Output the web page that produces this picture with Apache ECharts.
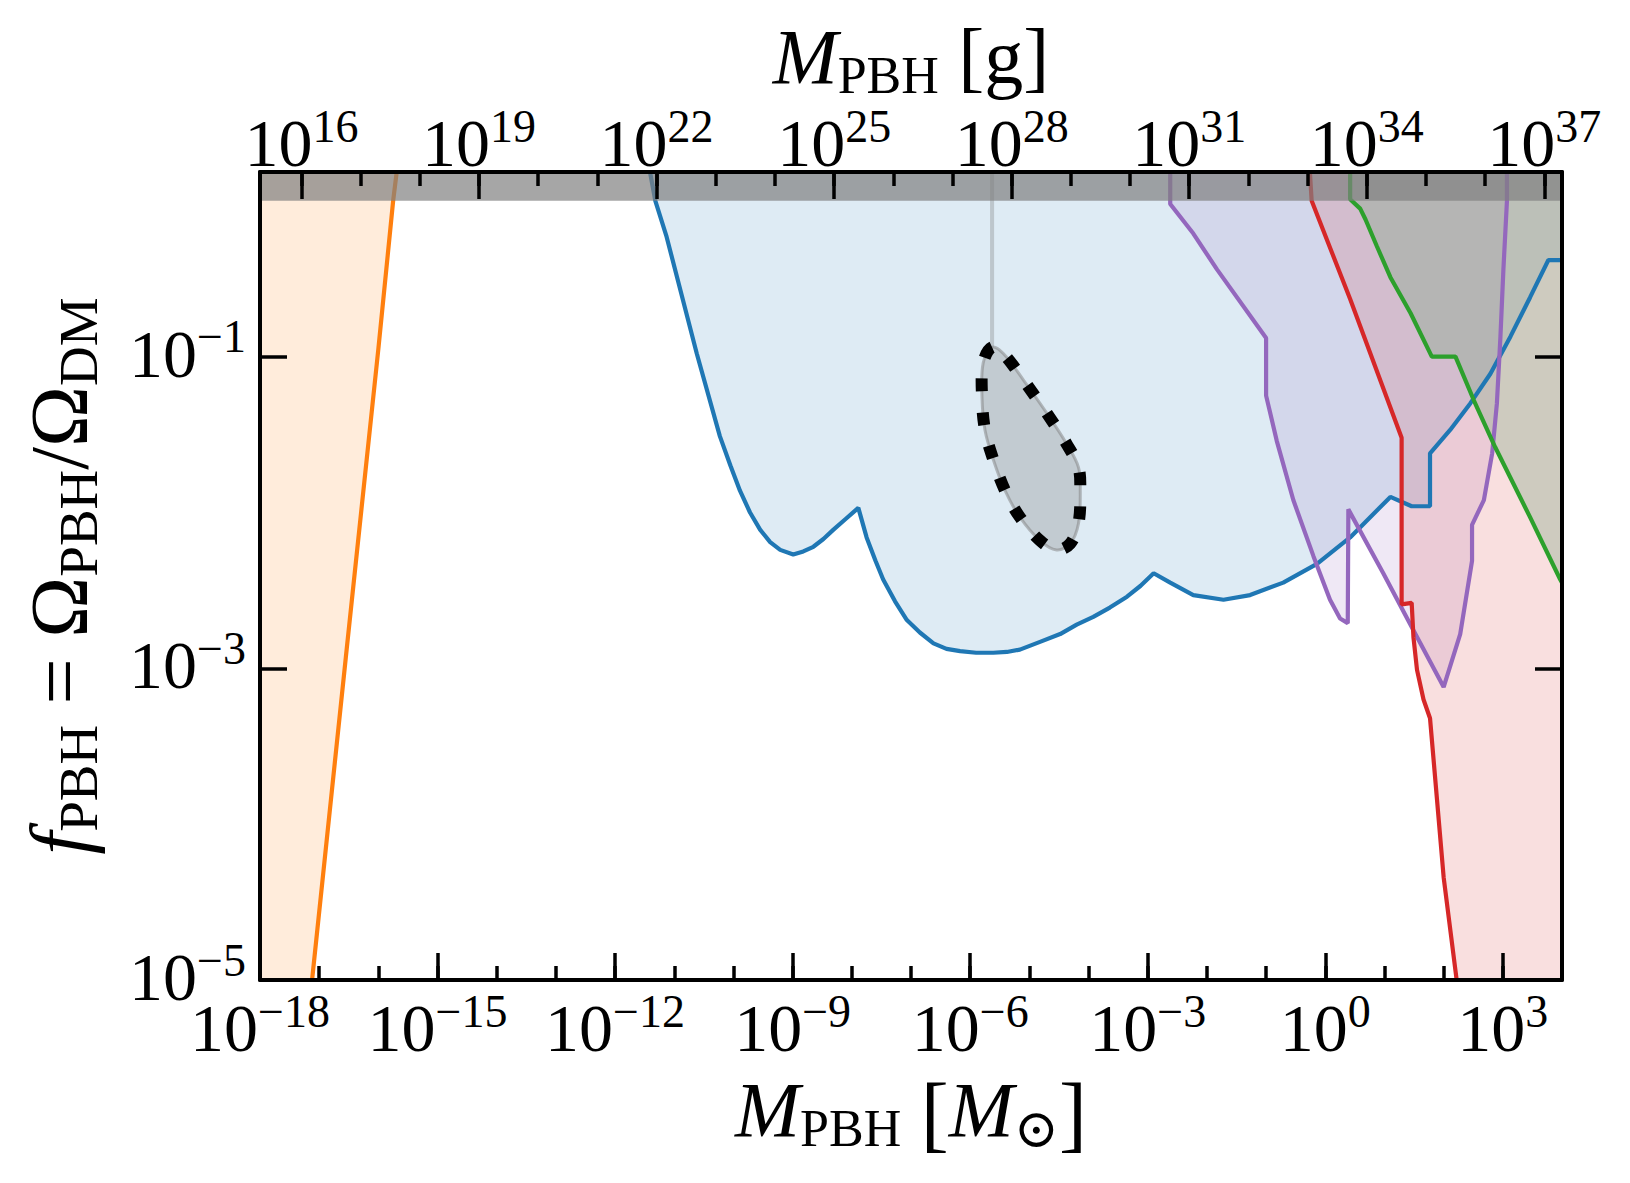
<!DOCTYPE html>
<html>
<head>
<meta charset="utf-8">
<title>PBH abundance constraints</title>
<script src="https://cdn.jsdelivr.net/npm/echarts@6/dist/echarts.min.js"></script>
<style>
  html, body { margin: 0; padding: 0; background: #fff; }
  #chart { width: 1630px; height: 1183px; }
</style>
</head>
<body>
<div id="chart"></div>
<script>
// all masses are log10(M / Msun), all fractions log10(f_PBH)
const orangeLogM = [-15.69, -15.75, -16.00, -16.55, -17.12, -18.00];
const orangeLogF = [0.185, 0.00, -0.95, -2.93, -5.00, -8.20];

const blueLogM = [-11.41, -11.32, -11.13, -10.62, -10.23, -10.05, -9.89, -9.72, -9.55, -9.38, -9.21, -8.99,
  -8.82, -8.65, -8.48, -8.31, -8.10, -7.89, -7.75, -7.60, -7.47, -7.27, -7.07, -6.85, -6.62, -6.40, -6.17,
  -5.90, -5.61, -5.38, -5.16, -4.82, -4.48, -4.20, -3.92, -3.64, -3.35, -3.12, -2.90, -2.62, -2.23, -1.72,
  -1.27, -0.71, -0.14, 0.42, 1.10, 1.46, 1.77, 1.77, 2.11, 2.45, 2.79, 3.13, 3.46, 3.77, 4.00];
const blueLogF = [0.185, 0.00, -0.23, -0.98, -1.51, -1.70, -1.86, -2.00, -2.11, -2.19, -2.24, -2.27,
  -2.25, -2.22, -2.17, -2.11, -2.04, -1.97, -2.16, -2.31, -2.43, -2.57, -2.69, -2.77, -2.84, -2.875, -2.89,
  -2.90, -2.90, -2.895, -2.88, -2.83, -2.78, -2.72, -2.67, -2.61, -2.54, -2.47, -2.39, -2.45, -2.53, -2.56,
  -2.53, -2.45, -2.33, -2.16, -1.90, -1.96, -1.96, -1.62, -1.47, -1.30, -1.11, -0.87, -0.62, -0.38, -0.38];

const purpleLogM = [-2.62, -2.62, -2.23, -1.83, -1.00, -1.00, -0.82, -0.54, -0.20, 0.08, 0.25, 0.38, 0.39,
  0.98, 1.44, 2.00, 2.28, 2.48, 2.48, 2.68, 2.82, 2.90, 2.96, 3.01, 3.07, 3.07];
const purpleLogF = [0.185, -0.02, -0.21, -0.44, -0.88, -1.25, -1.54, -1.92, -2.28, -2.56, -2.68, -2.71, -1.98,
  -2.39, -2.72, -3.12, -2.78, -2.31, -2.08, -1.92, -1.62, -1.30, -0.87, -0.44, 0.00, 0.185];

const redLogM = [-0.26, -0.23, 0.42, 1.29, 1.29, 1.46, 1.49, 1.55, 1.66, 1.77, 2.00, 2.22, 4.00];
const redLogF = [0.185, 0.00, -0.63, -1.52, -2.59, -2.58, -2.80, -3.01, -3.20, -3.32, -4.34, -5.00, -10.20];

const greenLogM = [0.42, 0.42, 0.59, 0.68, 0.87, 1.10, 1.44, 1.80, 2.20, 2.51, 2.87, 3.46, 3.97, 4.00];
const greenLogF = [0.185, 0.01, -0.05, -0.12, -0.29, -0.49, -0.72, -1.00, -1.00, -1.28, -1.58, -2.03, -2.43, -2.45];

// closed contour of the favoured region, and the thin stem above it
const blobLogM = [-5.63, -5.78, -5.80, -5.75, -5.61, -5.41, -5.16, -4.82, -4.54, -4.31, -4.17, -4.14,
  -4.17, -4.37, -4.71, -5.10, -5.44];
const blobLogF = [-0.94, -1.04, -1.26, -1.47, -1.66, -1.86, -2.03, -2.18, -2.24, -2.20, -2.07, -1.86,
  -1.71, -1.56, -1.36, -1.15, -0.98];
const stemLogM = [-5.63, -5.63];
const stemLogF = [-0.94, 0.185];

// tick labels (exponents)
const massTickExps = [-18, -15, -12, -9, -6, -3, 0, 3];
const gramTickExps = [16, 19, 22, 25, 28, 31, 34, 37];
const fracTickExps = [-5, -3, -1];

const M_MIN = -18, M_MAX = 4;
const F_MIN = -5, F_MAX = 0.185;
const G_MIN = 16, G_MAX = 37;
const LOG_MSUN_IN_G = Math.log10(1.989e33);

const GRID_LEFT = 260, GRID_TOP = 172, GRID_W = 1302, GRID_H = 808;
const pxPerDecade = GRID_W / (M_MAX - M_MIN);
const gramLeft = GRID_LEFT + (G_MIN - LOG_MSUN_IN_G - M_MIN) * pxPerDecade;
const gramWidth = (G_MAX - G_MIN) * pxPerDecade;

const SERIF = 'Liberation Serif, DejaVu Serif, serif';

// rich tokens are bottom aligned; bottom padding lifts a token
const tickRich = {
  b: { fontFamily: SERIF, fontSize: 68, lineHeight: 62, color: '#000', verticalAlign: 'bottom' },
  s: { fontFamily: SERIF, fontSize: 46, lineHeight: 62, color: '#000', verticalAlign: 'bottom', padding: [0, 0, 28, 0] }
};

function titleRich(size, lift) {
  const sub = Math.round(size * 0.67);
  return {
    i: { fontFamily: SERIF, fontStyle: 'italic', fontSize: size, lineHeight: 84, color: '#000', verticalAlign: 'bottom', padding: [0, 0, lift, 0] },
    r: { fontFamily: SERIF, fontSize: size, lineHeight: 84, color: '#000', verticalAlign: 'bottom', padding: [0, 0, lift, 0] },
    sub: { fontFamily: SERIF, fontSize: sub, lineHeight: 84, color: '#000', verticalAlign: 'bottom', padding: [0, 0, lift - 6, 0] },
    br: { fontFamily: SERIF, fontSize: 84, lineHeight: 84, color: '#000', verticalAlign: 'bottom' },
    dot: { fontFamily: 'DejaVu Serif, serif', fontSize: 54, lineHeight: 84, color: '#000', verticalAlign: 'bottom' }
  };
}

function powLabel(list) {
  return function (value) {
    const n = Math.round(value);
    if (Math.abs(value - n) > 1e-6 || list.indexOf(n) < 0) return '';
    const e = n < 0 ? '\u2212' + (-n) : String(n);
    return '{b|10}{s|' + e + '}';
  };
}

function pairs(xs, ys) {
  return xs.map((x, i) => [x, ys[i]]);
}

function fillSeries(name, xs, ys, color) {
  return {
    name: name, type: 'line', data: pairs(xs, ys), symbol: 'none', silent: true, clip: true, z: 2,
    lineStyle: { width: 0, opacity: 0 },
    areaStyle: { color: color, opacity: 1, origin: 'end' }
  };
}

function lineSeries(name, xs, ys, color, width) {
  return {
    name: name, type: 'line', data: pairs(xs, ys), symbol: 'none', silent: true, clip: true, z: 3,
    lineStyle: { color: color, width: width }
  };
}

const spine = { show: true, onZero: false, lineStyle: { color: '#000', width: 4 } };
const noLine = { show: false, onZero: false };
const majorTick = { show: true, inside: true, length: 27, lineStyle: { color: '#000', width: 3.5 } };
const minorTick = { show: true, inside: true, length: 14, lineStyle: { color: '#000', width: 3.5 } };

const chart = echarts.init(document.getElementById('chart'), null, { renderer: 'svg' });

chart.setOption({
  animation: false,
  backgroundColor: '#fff',
  textStyle: { fontFamily: SERIF },
  grid: [
    { left: GRID_LEFT, top: GRID_TOP, width: GRID_W, height: GRID_H, containLabel: false, outerBoundsMode: 'none' },
    { left: gramLeft, top: GRID_TOP, width: gramWidth, height: GRID_H, containLabel: false, outerBoundsMode: 'none' }
  ],
  xAxis: [
    {
      type: 'value', gridIndex: 0, position: 'bottom', min: M_MIN, max: M_MAX, interval: 3, z: 10,
      axisLine: spine, axisTick: majorTick, splitLine: { show: false },
      axisLabel: { formatter: powLabel(massTickExps), rich: tickRich, margin: 20, showMinLabel: true, showMaxLabel: true },
      name: '{i|M}{sub|PBH}{r| }{br|[}{i|M}{dot|\u2299}{br|]}',
      nameLocation: 'middle', nameGap: 91, nameMoveOverlap: false,
      nameTextStyle: { rich: titleRich(78, 7) }
    },
    {
      type: 'value', gridIndex: 0, position: 'bottom', min: M_MIN, max: M_MAX, interval: 1, z: 10,
      axisLine: noLine, axisTick: minorTick, axisLabel: { show: false }, splitLine: { show: false }
    },
    {
      type: 'value', gridIndex: 0, position: 'top', min: M_MIN, max: M_MAX, z: 10,
      axisLine: spine, axisTick: { show: false }, axisLabel: { show: false }, splitLine: { show: false },
      name: '{i|M}{sub|PBH}{r| [g]}',
      nameLocation: 'middle', nameGap: 70, nameMoveOverlap: false,
      nameTextStyle: { rich: titleRich(78, 7) }
    },
    {
      type: 'value', gridIndex: 1, position: 'top', min: G_MIN, max: G_MAX, interval: 3, z: 10,
      axisLine: noLine, axisTick: majorTick, splitLine: { show: false },
      axisLabel: { formatter: powLabel(gramTickExps), rich: tickRich, margin: -5, showMinLabel: true, showMaxLabel: true }
    },
    {
      type: 'value', gridIndex: 1, position: 'top', min: G_MIN, max: G_MAX, interval: 1, z: 10,
      axisLine: noLine, axisTick: minorTick, axisLabel: { show: false }, splitLine: { show: false }
    }
  ],
  yAxis: [
    {
      type: 'value', gridIndex: 0, position: 'left', min: F_MIN, max: F_MAX, interval: 2, z: 10,
      axisLine: spine, axisTick: majorTick, splitLine: { show: false },
      axisLabel: { formatter: powLabel(fracTickExps), rich: tickRich, margin: 14, showMinLabel: true, showMaxLabel: true },
      name: '{i|f}{sub|PBH}{r| = \u03a9}{sub|PBH}{r|/\u03a9}{sub|DM}',
      nameLocation: 'middle', nameRotate: 90, nameGap: 152, nameMoveOverlap: false,
      nameTextStyle: { rich: titleRich(82, 8) }
    },
    {
      type: 'value', gridIndex: 0, position: 'right', min: F_MIN, max: F_MAX, interval: 2, z: 10,
      axisLine: spine, axisTick: majorTick, axisLabel: { show: false }, splitLine: { show: false }
    },
    { type: 'value', gridIndex: 1, min: 0, max: 1, show: false }
  ],
  series: [
    fillSeries('orange fill', orangeLogM, orangeLogF, 'rgba(255,127,14,0.15)'),
    fillSeries('blue fill', blueLogM, blueLogF, 'rgba(31,119,180,0.15)'),
    fillSeries('purple fill', purpleLogM, purpleLogF, 'rgba(148,103,189,0.15)'),
    fillSeries('red fill', redLogM, redLogF, 'rgba(214,39,40,0.15)'),
    fillSeries('green fill', greenLogM, greenLogF, 'rgba(125,166,133,0.35)'),
    lineSeries('orange', orangeLogM, orangeLogF, '#ff7f0e', 4.2),
    lineSeries('blue', blueLogM, blueLogF, '#1f77b4', 4.2),
    lineSeries('purple', purpleLogM, purpleLogF, '#9467bd', 4.2),
    lineSeries('red', redLogM, redLogF, '#d62728', 4.2),
    lineSeries('green', greenLogM, greenLogF, '#2ca02c', 4.2),
    lineSeries('stem', stemLogM, stemLogF, 'rgba(128,128,128,0.35)', 4),
    {
      name: 'contour', type: 'custom', silent: true, z: 4,
      data: pairs(blobLogM, blobLogF),
      encode: { x: 0, y: 1 },
      renderItem: function (params, api) {
        if (params.dataIndex !== 0) return null;
        const pts = blobLogM.map((m, i) => api.coord([m, blobLogF[i]]));
        return {
          type: 'group',
          children: [
            {
              type: 'polygon', shape: { points: pts, smooth: 0.35 },
              style: { fill: 'rgba(128,128,128,0.3)', stroke: 'rgba(128,128,128,0.5)', lineWidth: 3 }
            },
            {
              type: 'polygon', shape: { points: pts, smooth: 0.35 },
              style: { fill: null, stroke: '#000', lineWidth: 12, lineDash: [13, 21] }
            }
          ]
        };
      }
    },
    {
      name: 'f > 1', type: 'line', data: [[M_MIN, 0], [M_MAX, 0]], symbol: 'none', silent: true, z: 5,
      lineStyle: { width: 0, opacity: 0 },
      areaStyle: { color: 'rgba(128,128,128,0.7)', opacity: 1, origin: 'end' }
    }
  ]
});
</script>
</body>
</html>
